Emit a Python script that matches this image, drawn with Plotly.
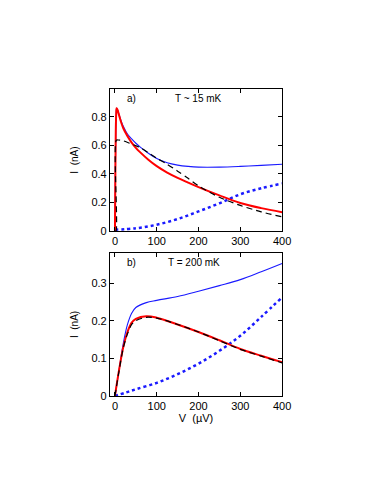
import plotly.graph_objects as go

# Panel a) T ~ 15 mK
va = [0, 1, 2, 3, 4, 6, 10, 15, 20, 30, 40, 50, 60, 80, 100, 125, 150, 175, 200, 250, 300, 350, 400]
a_blue = [0, 0.4, 0.7, 0.82, 0.86, 0.85, 0.815, 0.77, 0.735, 0.68, 0.645, 0.615, 0.59, 0.545, 0.508, 0.478, 0.462, 0.453, 0.448, 0.448, 0.453, 0.46, 0.468]
a_red = [0, 0.4, 0.7, 0.82, 0.86, 0.85, 0.81, 0.76, 0.72, 0.665, 0.62, 0.583, 0.553, 0.5, 0.455, 0.41, 0.373, 0.34, 0.308, 0.25, 0.197, 0.161, 0.133]
vd = [0, 2.5, 3, 8, 20, 35, 50, 60, 80, 100, 125, 150, 175, 200, 250, 300, 350, 400]
a_dash = [0, 0, 0.635, 0.638, 0.632, 0.615, 0.598, 0.585, 0.548, 0.51, 0.468, 0.42, 0.37, 0.317, 0.237, 0.18, 0.135, 0.1]
vdot = [0, 50, 100, 150, 200, 250, 300, 350, 400]
a_dot = [0.01, 0.02, 0.045, 0.085, 0.138, 0.195, 0.258, 0.3, 0.333]

# Panel b) T = 200 mK
vb = [0, 10, 20, 30, 40, 50, 75, 100, 150, 200, 250, 300, 350, 400]
b_blue = [0, 0.07, 0.14, 0.19, 0.22, 0.235, 0.248, 0.254, 0.264, 0.278, 0.293, 0.309, 0.33, 0.352]
b_red = [0, 0.07, 0.13, 0.17, 0.195, 0.205, 0.212, 0.208, 0.19, 0.17, 0.148, 0.125, 0.107, 0.09]
b_dash = [0, 0.068, 0.128, 0.165, 0.19, 0.2, 0.209, 0.207, 0.19, 0.17, 0.147, 0.124, 0.106, 0.088]
vbdot = [0, 25, 50, 100, 150, 200, 250, 300, 350, 400]
b_dot = [0, 0.009, 0.018, 0.035, 0.058, 0.086, 0.12, 0.16, 0.21, 0.262]

BLUE = '#1a1aff'
RED = '#ff0000'

# the page body adds an 8px offset, so the figure is a bit smaller than the window
OFF = 8
W, H = 374 - OFF, 484 - OFF

def px_x(p):
    return (p - OFF) / W

def px_y(p):
    return (484 - p) / H

fig = go.Figure()

def add_panel(fig, xa, ya, vs, blue, red, vdash, dash, vdots, dots):
    fig.add_trace(go.Scatter(x=vdots, y=dots, xaxis=xa, yaxis=ya, mode='lines', line_shape='spline',
                             line=dict(color=BLUE, width=2.5, dash='dot')))
    fig.add_trace(go.Scatter(x=vs, y=blue, xaxis=xa, yaxis=ya, mode='lines', line_shape='spline',
                             line=dict(color=BLUE, width=1.1, smoothing=1)))
    fig.add_trace(go.Scatter(x=vs, y=red, xaxis=xa, yaxis=ya, mode='lines', line_shape='spline',
                             line=dict(color=RED, width=2, smoothing=1)))
    fig.add_trace(go.Scatter(x=vdash, y=dash, xaxis=xa, yaxis=ya, mode='lines', line_shape='spline',
                             line=dict(color='black', width=1.2, dash='6px,4px', smoothing=0.8)))

add_panel(fig, 'x', 'y', va, a_blue, a_red, vd, a_dash, vdot, a_dot)
add_panel(fig, 'x2', 'y2', vb, b_blue, b_red, vb, b_dash, vbdot, b_dot)

axis_style = dict(showgrid=False, zeroline=False, showline=True, linecolor='black', linewidth=1,
                  mirror='ticks', ticks='inside', ticklen=4, tickcolor='black',
                  tickfont=dict(size=11, color='black'))

xdom = [px_x(112.5), px_x(289)]
fig.update_layout(
    width=W, height=H,
    margin=dict(l=0, r=0, t=0, b=0),
    paper_bgcolor='white', plot_bgcolor='white',
    showlegend=False,
    font=dict(family='Liberation Sans, Arial', color='black'),
    xaxis=dict(domain=xdom, anchor='y', range=[-12, 400], tickvals=[0, 100, 200, 300, 400], **axis_style),
    yaxis=dict(domain=[px_y(234), px_y(90)], anchor='x', range=[0, 0.995],
               tickvals=[0, 0.2, 0.4, 0.6, 0.8], ticktext=['0', '0.2', '0.4', '0.6', '0.8'],
               title=dict(text='I  (nA)', font=dict(size=10), standoff=10), **axis_style),
    xaxis2=dict(domain=xdom, anchor='y2', range=[-12, 400], tickvals=[0, 100, 200, 300, 400],
                title=dict(text='V  (µV)', font=dict(size=11), standoff=2), **axis_style),
    yaxis2=dict(domain=[px_y(401), px_y(256)], anchor='x2', range=[0, 0.38],
                tickvals=[0, 0.1, 0.2, 0.3], ticktext=['0', '0.1', '0.2', '0.3'],
                title=dict(text='I  (nA)', font=dict(size=10), standoff=10), **axis_style),
    annotations=[
        dict(x=40, y=0.93, xref='x', yref='y', text='a)', showarrow=False, font=dict(size=10)),
        dict(x=200, y=0.93, xref='x', yref='y', text='T ~ 15 mK', showarrow=False, font=dict(size=10)),
        dict(x=40, y=0.355, xref='x2', yref='y2', text='b)', showarrow=False, font=dict(size=10)),
        dict(x=188, y=0.355, xref='x2', yref='y2', text='T = 200 mK', showarrow=False, font=dict(size=10)),
    ],
)

fig.write_html("out.html")
